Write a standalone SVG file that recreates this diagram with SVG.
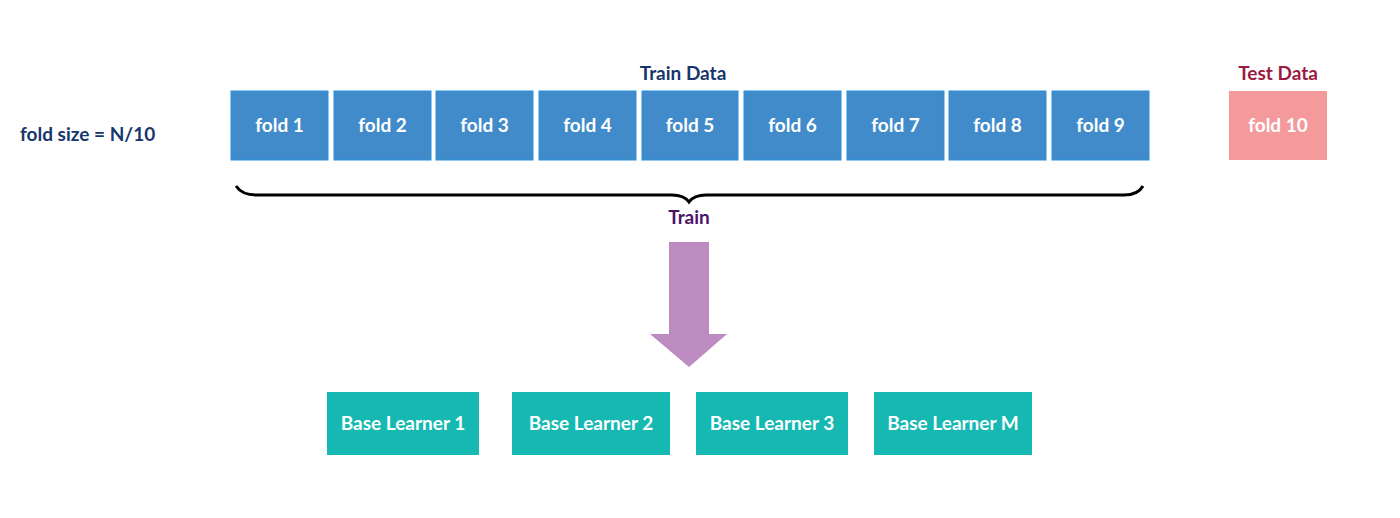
<svg xmlns="http://www.w3.org/2000/svg" width="1400" height="518" viewBox="0 0 1400 518">
<style>
.t{font-family:Lato,"Open Sans","Liberation Sans",sans-serif;font-weight:bold;font-size:19px;}
.fold{fill:#418bca;stroke:#2a8fdc;stroke-width:1;}
.fl{fill:#ffffff;text-anchor:middle;}
.bl{fill:#15b9b2;}
</style>
<rect width="1400" height="518" fill="#ffffff"/>
<text class="t" x="20" y="141" fill="#17366c">fold size = N/10</text>
<text class="t" x="683" y="80" fill="#17366c" text-anchor="middle">Train Data</text>
<text class="t" x="1278" y="80" fill="#9b1a42" text-anchor="middle">Test Data</text>
<g id="fold1"><rect class="fold" x="231" y="91" width="97" height="69"/><text class="t fl" x="279.5" y="132">fold 1</text></g>
<g id="fold2"><rect class="fold" x="334" y="91" width="97" height="69"/><text class="t fl" x="382.5" y="132">fold 2</text></g>
<g id="fold3"><rect class="fold" x="436" y="91" width="97" height="69"/><text class="t fl" x="484.5" y="132">fold 3</text></g>
<g id="fold4"><rect class="fold" x="539" y="91" width="97" height="69"/><text class="t fl" x="587.5" y="132">fold 4</text></g>
<g id="fold5"><rect class="fold" x="642" y="91" width="96" height="69"/><text class="t fl" x="690" y="132">fold 5</text></g>
<g id="fold6"><rect class="fold" x="744" y="91" width="97" height="69"/><text class="t fl" x="792.5" y="132">fold 6</text></g>
<g id="fold7"><rect class="fold" x="847" y="91" width="97" height="69"/><text class="t fl" x="895.5" y="132">fold 7</text></g>
<g id="fold8"><rect class="fold" x="949" y="91" width="97" height="69"/><text class="t fl" x="997.5" y="132">fold 8</text></g>
<g id="fold9"><rect class="fold" x="1052" y="91" width="97" height="69"/><text class="t fl" x="1100.5" y="132">fold 9</text></g>
<g id="fold10"><rect x="1229" y="91" width="98" height="69" fill="#f59a9c"/><text class="t fl" x="1278" y="132">fold 10</text></g>
<g id="brace"><path d="M236,186 Q242,195 256,195 L672,195 Q684,195 689,202 Q694,195 706,195 L1124,195 Q1138,195 1143,186" fill="none" stroke="#000000" stroke-width="3"/></g>
<text class="t" x="689" y="224" fill="#4b1466" text-anchor="middle">Train</text>
<g id="connectors"><polygon points="669,242 709,242 709,334 727,334 689,367 650,334 669,334" fill="#bc8bbf"/></g>
<g id="bl1"><rect class="bl" x="327" y="392" width="152" height="63"/><text class="t fl" x="403" y="430">Base Learner 1</text></g>
<g id="bl2"><rect class="bl" x="512" y="392" width="158" height="63"/><text class="t fl" x="591" y="430">Base Learner 2</text></g>
<g id="bl3"><rect class="bl" x="696" y="392" width="152" height="63"/><text class="t fl" x="772" y="430">Base Learner 3</text></g>
<g id="blM"><rect class="bl" x="874" y="392" width="158" height="63"/><text class="t fl" x="953" y="430">Base Learner M</text></g>
</svg>
